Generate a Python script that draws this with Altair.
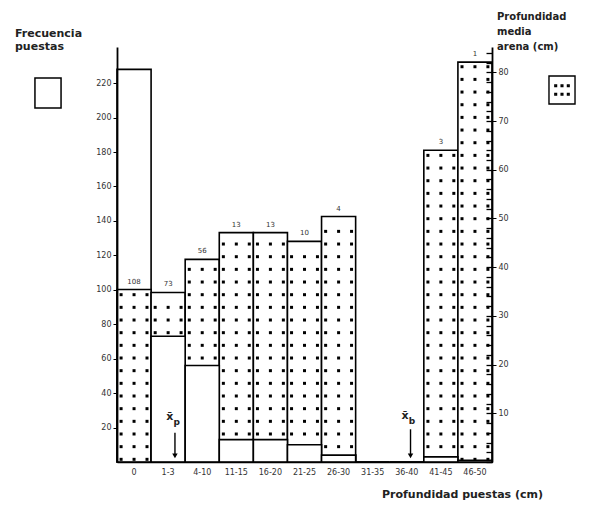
import altair as alt
import pandas as pd

categories = ["0", "1-3", "4-10", "11-15", "16-20", "21-25", "26-30", "31-35", "36-40", "41-45", "46-50"]
freq = [228, 73, 56, 13, 13, 10, 4, 0, 0, 3, 1]
depth = [35.4, 34.8, 41.6, 47.1, 47.1, 45.3, 50.4, 0, 0, 64.0, 82.1]
counts = ["108", "73", "56", "13", "13", "10", "4", "", "", "3", "1"]

ann_cat = ["1-3", "36-40"]
ann_sub = ["p", "b"]
ann_top = [17, 19]

FREQ_MAX = 241
DEPTH_MAX = 85.2
W, H = 375, 415
FONT = "DejaVu Sans"

df = pd.DataFrame({"cat": categories, "freq": freq, "depth": depth, "n": counts})
df["front"] = df["freq"] / FREQ_MAX < df["depth"] / DEPTH_MAX
df["kf"] = "Frecuencia puestas"
df["kd"] = "Profundidad media"

# dotted texture rows for the depth bars
rows = []
for c, d in zip(categories, depth):
    k = 0
    while 0.55 + 2.6 * k <= d - 0.6:
        rows.append({"cat": c, "yv": 0.55 + 2.6 * k})
        k += 1
dots = pd.DataFrame(rows)

xscale = alt.Scale(domain=categories, paddingInner=0, paddingOuter=0)
yF = alt.Scale(domain=[0, FREQ_MAX], nice=False, zero=True)
yD = alt.Scale(domain=[0, DEPTH_MAX], nice=False, zero=True)

x_axis = alt.Axis(orient="bottom", ticks=False, domain=True, domainColor="black", domainWidth=1.6,
                  labelAngle=0, labelFontSize=8, labelFont=FONT, labelColor="#333", labelPadding=6,
                  title="Profundidad puestas (cm)", titleFont=FONT, titleFontSize=11,
                  titleFontWeight="bold", titleX=345, titleY=32, titleAlign="center",
                  titleBaseline="middle", titleColor="#222", zindex=1)


def xenc(band=0.5):
    return alt.X("cat:N", sort=categories, scale=xscale, axis=x_axis, bandPosition=band)


BOX = "M-0.87,-1H0.87V1H-0.87Z"
DBOX = "M-0.93,-1H0.93V1H-0.93Z"
for yy in (-0.3, 0.3):
    for xx in (-0.45, 0.0, 0.45):
        DBOX += f" M{xx-0.06:.2f},{yy-0.06:.2f}h0.12v0.12h-0.12Z"

barA = alt.Chart(df).mark_bar(stroke="black", strokeWidth=1.6).encode(
    x=xenc(),
    y=alt.Y("freq:Q", scale=yF,
            axis=alt.Axis(orient="left", values=list(range(20, 221, 20)), tickSize=4,
                          tickColor="black", domainColor="black", domainWidth=1.8,
                          labelFontSize=8, labelFont=FONT, labelColor="#333", grid=False,
                          title=None, zindex=1)),
    fill=alt.Fill("kf:N", scale=alt.Scale(domain=["Frecuencia puestas"], range=["white"]),
                  legend=alt.Legend(title=["Frecuencia", "puestas"], orient="none",
                                    legendX=-102, legendY=-19, symbolType=BOX, symbolSize=900,
                                    symbolOffset=17, symbolStrokeColor="black",
                                    symbolStrokeWidth=1.5, labelExpr="''", titleFont=FONT,
                                    titleFontSize=11, titleFontWeight="bold",
                                    titleLineHeight=13, titlePadding=25, padding=0,
                                    titleColor="#222")),
)

barB = alt.Chart(df).mark_bar(stroke="black", strokeWidth=1.6).encode(
    x=xenc(),
    y=alt.Y("depth:Q", scale=yD,
            axis=alt.Axis(orient="right", values=list(range(10, 81, 10)), tickSize=4,
                          tickColor="black", domainColor="black", domainWidth=1.8,
                          labelFontSize=8, labelFont=FONT, labelColor="#333", grid=False,
                          title=None, zindex=1)),
    fill=alt.Fill("kd:N", scale=alt.Scale(domain=["Profundidad media"], range=["white"]),
                  legend=alt.Legend(title=["Profundidad", "media", "arena (cm)"], orient="none",
                                    legendX=380, legendY=-35, symbolType=DBOX, symbolSize=784,
                                    symbolOffset=50, symbolStrokeColor="black",
                                    symbolStrokeWidth=1.4, labelExpr="''", titleFont=FONT,
                                    titleFontSize=10, titleFontWeight="bold",
                                    titleLineHeight=15, titlePadding=23, padding=0,
                                    titleColor="#222")),
)

dot_layers = []
for i, bp in enumerate([0.12, 0.5, 0.88]):
    yax = None
    if i == 0:
        yax = alt.Axis(orient="left", offset=-W, values=list(range(0, 86, 2)), tickSize=6,
                       tickColor="black", tickWidth=1.3, labels=False, domain=False,
                       grid=False, title=None, zindex=1)
    dot_layers.append(
        alt.Chart(dots).mark_square(size=9, color="black", opacity=1).encode(
            x=xenc(band=bp),
            y=alt.Y("yv:Q", scale=yD, axis=yax),
        )
    )

barC = alt.Chart(df[df["front"]]).mark_bar(stroke="black", strokeWidth=1.6, fill="white").encode(
    x=xenc(),
    y=alt.Y("freq:Q", scale=yF, axis=None),
)

labels = alt.Chart(df).mark_text(fontSize=7, font=FONT, color="#333", dy=-8).encode(
    x=xenc(),
    y=alt.Y("depth:Q", scale=yD, axis=None),
    text="n:N",
)

ann = pd.DataFrame({"cat": ann_cat, "sub": ann_sub, "top": ann_top})
ann["tip"] = 3.5
ann["ty"] = [26, 27]
ann["bar"] = "x\u0304"

ann_layers = []
for idx, (bp_arrow, bp_text) in enumerate([(0.7, 0.55), (0.61, 0.45)]):
    a = ann.iloc[[idx]]
    ann_layers.append(alt.Chart(a).mark_rule(color="black", strokeWidth=1.4).encode(
        x=xenc(band=bp_arrow), y=alt.Y("top:Q", scale=yF, axis=None), y2="tip:Q"))
    ann_layers.append(alt.Chart(a).mark_point(shape="triangle-down", filled=True, color="black",
                                              size=30, opacity=1).encode(
        x=xenc(band=bp_arrow), y=alt.Y("tip:Q", scale=yF, axis=None)))
    ann_layers.append(alt.Chart(a).mark_text(fontSize=11, font=FONT, fontWeight="bold",
                                             color="#222").encode(
        x=xenc(band=bp_text), y=alt.Y("ty:Q", scale=yF, axis=None), text="bar:N"))
    ann_layers.append(alt.Chart(a).mark_text(fontSize=9, font=FONT, fontWeight="bold",
                                             color="#222", dx=7, dy=5).encode(
        x=xenc(band=bp_text), y=alt.Y("ty:Q", scale=yF, axis=None), text="sub:N"))

chart = alt.layer(barA, barB, *dot_layers, barC, labels, *ann_layers).resolve_scale(
    y="independent", fill="independent"
).resolve_legend(fill="independent").properties(
    width=W, height=H,
    padding={"left": 109, "top": 39, "right": 86, "bottom": 41},
    autosize=alt.AutoSizeParams(type="none"),
).configure_view(stroke=None)

chart.save("out.html", embed_options={"renderer": "svg", "actions": False})
